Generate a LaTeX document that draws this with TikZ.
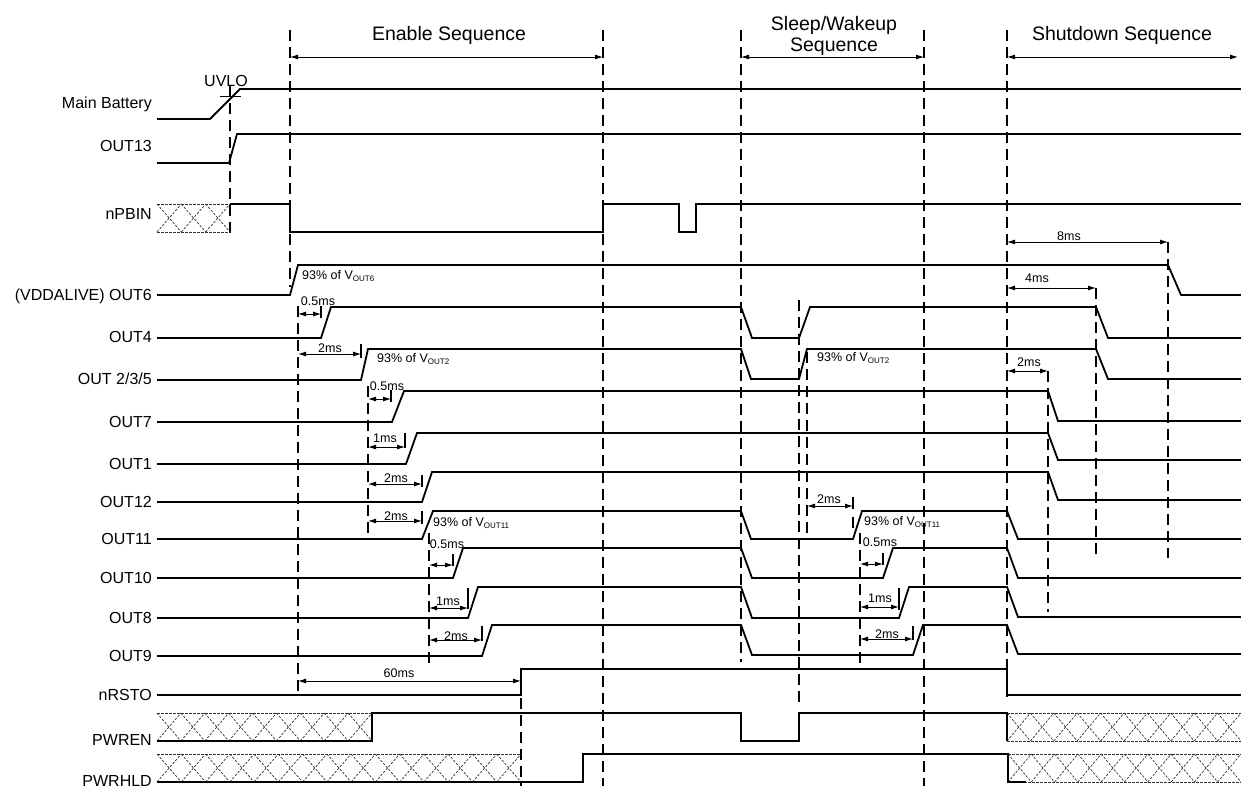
\documentclass[tikz,border=0pt]{standalone}
\usepackage{fontspec}
\setmainfont{Liberation Sans}
\usetikzlibrary{arrows.meta}
\newcommand{\vsub}[1]{V\raisebox{-2.3pt}{\fontsize{8}{9}\selectfont #1}}
\newcommand{\hatchbox}[6]{% x1 x2 ytop ybot n drawbottom(1/0)
  \draw[hatchline] (#1,#3) -- (#2,#3);
  \ifnum#6=1 \draw[hatchline] (#1,#4) -- (#2,#4);\fi
  \pgfmathsetmacro\hw{(#2-#1)/#5}
  \foreach \i in {1,...,#5}{
    \draw[hatchline] ({#1+(\i-1)*\hw},#3) -- ({#1+\i*\hw},#4);
    \draw[hatchline] ({#1+(\i-1)*\hw},#4) -- ({#1+\i*\hw},#3);
  }
}
\begin{document}
\begin{tikzpicture}[x=1pt,y=-1pt,
  sig/.style={line width=1.8pt, line join=miter},
  vdash/.style={line width=1.4pt, dash pattern=on 11pt off 6pt},
  tickm/.style={line width=1.4pt},
  dim/.style={{Latex[length=8pt,width=5pt]}-{Latex[length=8pt,width=5pt]}, line width=0.9pt},
  hatchline/.style={line width=0.7pt, dash pattern=on 2.5pt off 1.5pt, black!80},
  lbl/.style={anchor=base east, inner sep=0pt, font=\fontsize{16}{18}\selectfont},
  ann/.style={anchor=base, inner sep=0pt, font=\fontsize{12.5}{15}\selectfont},
  annw/.style={anchor=base west, inner sep=0pt, font=\fontsize{12.5}{15}\selectfont},
  hdr/.style={inner sep=0pt, align=center, font=\fontsize{19.5}{21.5}\selectfont},
]
\useasboundingbox (0,0) rectangle (1241,806);

% ---------- headers ----------
\node[hdr] (hEnable) at (449,35) {Enable Sequence};
\node[hdr] (hSleep) at (834,36) {Sleep/Wakeup\\Sequence};
\node[hdr] (hShut) at (1122,35) {Shutdown Sequence};
\draw[dim] (290,57) -- (603,57);
\draw[dim] (741,57) -- (924,57);
\draw[dim] (1007,57) -- (1238,57);

% ---------- dashed verticals ----------
\draw[vdash] (230,86) -- (230,237);
\draw[vdash] (290,30) -- (290,287);
\draw[vdash] (298,306) -- (298,692);
\draw[vdash] (368,386) -- (368,538);
\draw[vdash] (429,533) -- (429,663);
\draw[vdash] (521,698) -- (521,786);
\draw[vdash] (603,30) -- (603,786);
\draw[vdash] (741,30) -- (741,662);
\draw[vdash] (799,300) -- (799,708);
\draw[vdash] (807,352) -- (807,538);
\draw[vdash] (860,533) -- (860,663);
\draw[vdash] (924,30) -- (924,786);
\draw[vdash] (1007,30) -- (1007,697);
\draw[vdash] (1048,371) -- (1048,612);
\draw[vdash] (1096,288) -- (1096,556);
\draw[vdash] (1168,242) -- (1168,558);

% ---------- labels ----------
\node[lbl] (lMB) at (152,108) {Main Battery};
\node[lbl] (l13) at (152,151) {OUT13};
\node[lbl] (lPB) at (152,219) {nPBIN};
\node[lbl] (l6) at (152,300) {(VDDALIVE) OUT6};
\node[lbl] (l4) at (152,342) {OUT4};
\node[lbl] (l2) at (152,384) {OUT 2/3/5};
\node[lbl] (l7) at (152,427) {OUT7};
\node[lbl] (l1) at (152,469) {OUT1};
\node[lbl] (l12) at (152,507) {OUT12};
\node[lbl] (l11) at (152,544) {OUT11};
\node[lbl] (l10) at (152,583) {OUT10};
\node[lbl] (l8) at (152,623) {OUT8};
\node[lbl] (l9) at (152,661) {OUT9};
\node[lbl] (lRS) at (152,700) {nRSTO};
\node[lbl] (lEN) at (152,745) {PWREN};
\node[lbl] (lHL) at (152,786) {PWRHLD};
\node[anchor=base, inner sep=0pt, font=\fontsize{16}{18}\selectfont] (uvlo) at (226,86) {UVLO};
\draw[line width=0.8pt] (220,96) -- (241,96);

% ---------- hatched regions ----------
\hatchbox{157}{230}{204}{232}{3}{1}
\hatchbox{157}{372}{713}{741}{9}{0}
\hatchbox{1007}{1241}{713}{741}{10}{1}
\hatchbox{157}{521}{754}{782}{15}{0}
\hatchbox{1008}{1241}{754}{782}{10}{1}

% ---------- signals ----------
\draw[sig] (157,119) -- (210,119) -- (240,89) -- (1241,89);
\draw[sig] (157,163) -- (229,163) -- (237,134) -- (1241,134);
\draw[sig] (230,204) -- (290,204) -- (290,232) -- (603,232) -- (603,204) -- (679,204) -- (679,232) -- (696,232) -- (696,204) -- (1241,204);
\draw[sig] (157,295) -- (290,295) -- (298,265) -- (1168,265) -- (1181,295) -- (1241,295);
\draw[sig] (157,338) -- (321,338) -- (331,307) -- (741,307) -- (752,338) -- (799,338) -- (810,307) -- (1096,307) -- (1108,338) -- (1241,338);
\draw[sig] (157,380) -- (361,380) -- (368,349) -- (741,349) -- (751,379) -- (799,379) -- (807,349) -- (1096,349) -- (1108,379) -- (1241,379);
\draw[sig] (157,422) -- (392,422) -- (404,391) -- (1048,391) -- (1058,421) -- (1241,421);
\draw[sig] (157,464) -- (406,464) -- (417,433) -- (1048,433) -- (1058,460) -- (1241,460);
\draw[sig] (157,502) -- (422,502) -- (432,472) -- (1048,472) -- (1058,500) -- (1241,500);
\draw[sig] (157,539) -- (422,539) -- (433,511) -- (741,511) -- (751,539) -- (853,539) -- (862,511) -- (1007,511) -- (1018,539) -- (1241,539);
\draw[sig] (157,578) -- (453,578) -- (463,548) -- (741,548) -- (752,578) -- (883,578) -- (893,548) -- (1007,548) -- (1018,578) -- (1241,578);
\draw[sig] (157,618) -- (468,618) -- (478,587) -- (741,587) -- (752,618) -- (899,618) -- (909,587) -- (1007,587) -- (1018,617) -- (1241,617);
\draw[sig] (157,656) -- (482,656) -- (492,625) -- (741,625) -- (752,655) -- (913,655) -- (923,625) -- (1007,625) -- (1018,654) -- (1241,654);
\draw[sig] (157,695) -- (521,695) -- (521,669) -- (1007,669) -- (1007,695) -- (1241,695);
\draw[sig] (157,741) -- (372,741) -- (372,713) -- (741,713) -- (741,741) -- (799,741) -- (799,713) -- (1007,713) -- (1007,741);
\draw[sig] (157,782) -- (583,782) -- (583,754) -- (1008,754) -- (1008,782) -- (1026,782);

% ---------- enable timing annotations ----------
\node[annw] (a6) at (302,279) {93\% of \vsub{OUT6}};
\draw[dim] (298,314) -- (321,314); \draw[tickm] (321,306) -- (321,318);
\node[ann] (t4) at (318,305) {0.5ms};
\draw[dim] (298,354) -- (361,354); \draw[tickm] (361,344) -- (361,358);
\node[ann] (t2) at (330,352) {2ms};
\node[annw] (a2) at (377,362) {93\% of \vsub{OUT2}};
\draw[dim] (368,399) -- (391,399); \draw[tickm] (391,390) -- (391,402);
\node[ann] (t7) at (387,390) {0.5ms};
\draw[dim] (368,447) -- (405,447); \draw[tickm] (405,433) -- (405,448);
\node[ann] (t1) at (385,442) {1ms};
\draw[dim] (368,484) -- (422,484); \draw[tickm] (422,475) -- (422,487);
\node[ann] (t12) at (396,482) {2ms};
\draw[dim] (368,521) -- (422,521); \draw[tickm] (422,511) -- (422,524);
\node[ann] (t11) at (396,520) {2ms};
\node[annw] (a11) at (433,526) {93\% of \vsub{OUT11}};
\draw[dim] (429,565) -- (453,565); \draw[tickm] (453,554) -- (453,566);
\node[ann] (t10) at (447,548) {0.5ms};
\draw[dim] (429,608) -- (468,608); \draw[tickm] (468,588) -- (468,609);
\node[ann] (t8) at (448,605) {1ms};
\draw[dim] (429,640) -- (482,640); \draw[tickm] (482,626) -- (482,641);
\node[ann] (t9) at (456,640) {2ms};
\draw[dim] (298,681) -- (521,681);
\node[ann] (t60) at (399,677) {60ms};

% ---------- sleep / wakeup annotations ----------
\node[annw] (b2) at (817,361) {93\% of \vsub{OUT2}};
\draw[dim] (807,506) -- (853,506); \draw[tickm] (853,497) -- (853,509); \draw[tickm] (853,517) -- (853,528);
\node[ann] (s11) at (829,503) {2ms};
\node[annw] (b11) at (864,525) {93\% of \vsub{OUT11}};
\draw[dim] (860,564) -- (883,564); \draw[tickm] (883,553) -- (883,565);
\node[ann] (s10) at (880,546) {0.5ms};
\draw[dim] (860,607) -- (899,607); \draw[tickm] (899,588) -- (899,610);
\node[ann] (s8) at (880,602) {1ms};
\draw[dim] (860,639) -- (913,639); \draw[tickm] (913,626) -- (913,640);
\node[ann] (s9) at (887,638) {2ms};

% ---------- shutdown annotations ----------
\draw[dim] (1007,242) -- (1168,242);
\node[ann] (d8) at (1069,240) {8ms};
\draw[dim] (1007,288) -- (1096,288);
\node[ann] (d4) at (1037,282) {4ms};
\draw[dim] (1007,371) -- (1048,371);
\node[ann] (d2) at (1029,366) {2ms};
\end{tikzpicture}
\end{document}
